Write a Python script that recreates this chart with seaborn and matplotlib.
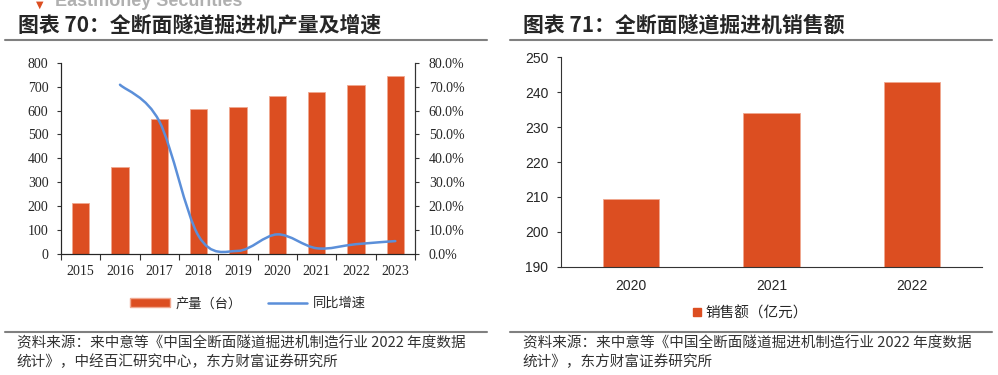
import numpy as np
import pandas as pd
import seaborn as sns
import matplotlib.pyplot as plt
from matplotlib.path import Path
from matplotlib.patches import PathPatch, Patch
from matplotlib.lines import Line2D
from matplotlib.ticker import FuncFormatter

# Data
years_prod = ['2015', '2016', '2017', '2018', '2019', '2020', '2021', '2022', '2023']
production = [212, 362, 563, 605, 613, 662, 678, 705, 743]
growth = [70.8, 55.5, 7.5, 1.3, 8.2, 2.4, 4.1, 5.4]  # % yoy, from 2016
years_sales = ['2020', '2021', '2022']
sales = [209.5, 234.0, 243.0]

BAR = '#DC4E21'
LINE = '#5B8FD9'
CJK = ['Noto Sans CJK SC', 'DejaVu Sans']
SERIF = 'Liberation Serif'
SANS = 'Liberation Sans'

sns.set_style('white')
plt.rcParams['font.family'] = CJK

fig = plt.figure(figsize=(9.98, 3.75), dpi=100)

# Left panel: production + yoy growth
ax1 = fig.add_axes([0.0611, 0.3227, 0.3547, 0.510])
df1 = pd.DataFrame({'year': years_prod, 'prod': production})
sns.barplot(data=df1, x='year', y='prod', color=BAR, width=0.44, saturation=1,
            edgecolor='#F0A890', linewidth=0.6, ax=ax1)
ax1.set_xlim(-0.5, len(years_prod) - 0.5)
ax1.set_ylim(0, 800)
ax1.set_yticks(range(0, 801, 100))
ax1.set_xlabel('')
ax1.set_ylabel('')
ax1.tick_params(axis='y', direction='out', length=3, width=0.8, color='#333333',
                labelsize=10, pad=6, left=True)
ax1.tick_params(axis='x', which='major', length=0, labelsize=10, pad=8)
ax1.set_xticks(np.arange(-0.5, len(years_prod)), minor=True)
ax1.tick_params(axis='x', which='minor', direction='out', length=4, width=0.8,
                color='#333333', bottom=True)
for lab in ax1.get_xticklabels() + ax1.get_yticklabels():
    lab.set_family(SERIF)
for s in ['left', 'bottom', 'right']:
    ax1.spines[s].set_color('#333333')
    ax1.spines[s].set_linewidth(0.8)
ax1.spines['top'].set_visible(False)

ax2 = ax1.twinx()
ax2.set_ylim(0, 80)
ax2.set_yticks(range(0, 81, 10))
ax2.yaxis.set_major_formatter(FuncFormatter(lambda v, p: f'{v:.1f}%'))
ax2.tick_params(axis='y', direction='out', length=3, width=0.8, color='#333333',
                labelsize=10, pad=7, right=True)
for lab in ax2.get_yticklabels():
    lab.set_family(SERIF)
ax2.spines['top'].set_visible(False)
ax2.spines['right'].set_color('#333333')
ax2.spines['right'].set_linewidth(0.8)

# smoothed growth line (bezier through the data points)
xs = np.arange(len(years_prod))[1:].astype(float)
ys = np.array(growth, dtype=float)
pts = np.column_stack([xs, ys])
verts = [pts[0]]
codes = [Path.MOVETO]
n = len(pts)
for i in range(n - 1):
    p0 = pts[i - 1] if i > 0 else pts[i]
    p1 = pts[i]
    p2 = pts[i + 1]
    p3 = pts[i + 2] if i + 2 < n else pts[i + 1]
    c1 = p1 + (p2 - p0) / 6
    c2 = p2 - (p3 - p1) / 6
    verts += [c1, c2, p2]
    codes += [Path.CURVE4] * 3
ax2.add_patch(PathPatch(Path(verts, codes), facecolor='none', edgecolor=LINE,
                        linewidth=1.8, capstyle='round'))

fig.legend(handles=[Patch(facecolor=BAR, edgecolor='#F0A890', label='产量（台）'),
                    Line2D([], [], color=LINE, lw=1.8, label='同比增速')],
           loc='center', bbox_to_anchor=(0.2485, 0.19), ncol=2, frameon=False,
           fontsize=9.5, handlelength=3.0, handleheight=0.6, columnspacing=2.0,
           handletextpad=0.4)

# Right panel: sales
ax3 = fig.add_axes([0.5621, 0.2888, 0.4218, 0.5584])
df2 = pd.DataFrame({'year': years_sales, 'sales': sales})
sns.barplot(data=df2, x='year', y='sales', color=BAR, width=0.4, saturation=1,
            edgecolor='#F0A890', linewidth=0.6, ax=ax3)
ax3.set_xlim(-0.5, len(years_sales) - 0.5)
ax3.set_ylim(190, 250)
ax3.set_yticks(range(190, 251, 10))
ax3.set_xlabel('')
ax3.set_ylabel('')
ax3.tick_params(axis='y', direction='out', length=3, width=0.8, color='#333333',
                labelsize=10, pad=6, left=True)
ax3.tick_params(axis='x', length=0, labelsize=10, pad=9)
for lab in ax3.get_xticklabels() + ax3.get_yticklabels():
    lab.set_family(SANS)
for s in ['left', 'bottom']:
    ax3.spines[s].set_color('#333333')
    ax3.spines[s].set_linewidth(0.8)
ax3.spines['top'].set_visible(False)
ax3.spines['right'].set_visible(False)

fig.legend(handles=[Line2D([], [], marker='s', linestyle='None', markersize=5.5,
                           markerfacecolor=BAR, markeredgecolor=BAR, label='销售额（亿元）')],
           loc='center', bbox_to_anchor=(0.752, 0.165), frameon=False, fontsize=10.5,
           handlelength=0.5, handletextpad=0.35)

# Titles, rules and sources
fig.text(0.018, 0.932, '图表 70：全断面隧道掘进机产量及增速', fontsize=15,
         fontweight='bold', va='center', ha='left', family=CJK)
fig.text(0.524, 0.932, '图表 71：全断面隧道掘进机销售额', fontsize=15,
         fontweight='bold', va='center', ha='left', family=CJK)
fig.text(0.055, 0.985, 'Eastmoney Securities', fontsize=13, fontweight='bold',
         color='#B0B0B0', va='baseline', ha='left', family=SANS)
fig.text(0.040, 0.988, '▼', fontsize=7, color=BAR, va='center', ha='center',
         family=['DejaVu Sans'])

for x0, x1 in [(0.005, 0.488), (0.511, 0.994)]:
    fig.add_artist(Line2D([x0, x1], [1 - 40 / 375, 1 - 40 / 375], color='#808080', lw=1.5))
    fig.add_artist(Line2D([x0, x1], [1 - 332 / 375, 1 - 332 / 375], color='#808080', lw=1.5))

src = dict(fontsize=10.5, color='#333333', va='center', ha='left', family=CJK)
fig.text(0.017, 1 - 343 / 375, '资料来源：来中意等《中国全断面隧道掘进机制造行业 2022 年度数据', **src)
fig.text(0.017, 1 - 362 / 375, '统计》，中经百汇研究中心，东方财富证券研究所', **src)
fig.text(0.524, 1 - 343 / 375, '资料来源：来中意等《中国全断面隧道掘进机制造行业 2022 年度数据', **src)
fig.text(0.524, 1 - 362 / 375, '统计》，东方财富证券研究所', **src)

fig.savefig('out.png', dpi=100)
